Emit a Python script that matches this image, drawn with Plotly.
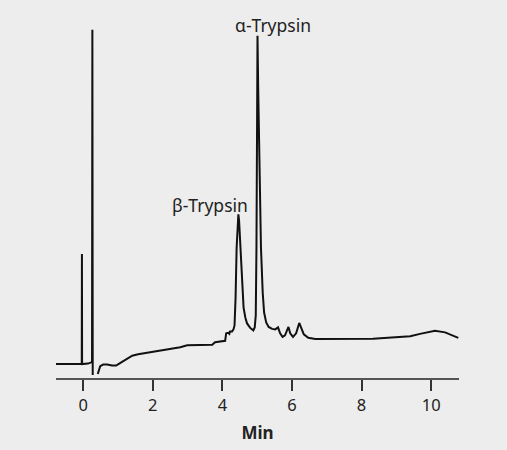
import plotly.graph_objects as go

# Retention time (min) and detector signal (arbitrary units)
time_min = [
    -0.78, -0.04, -0.035, -0.03, 0.14, 0.23, 0.255, 0.265, 0.275,
    None,
    0.42, 0.45, 0.49, 0.575, 0.69, 0.83, 0.95, 1.06, 1.24, 1.41, 1.58, 1.93,
    2.36, 2.79, 2.99, 3.36, 3.71, 3.79, 3.99, 4.08, 4.11, 4.17, 4.20, 4.22,
    4.28, 4.32, 4.35, 4.38, 4.41, 4.44, 4.46, 4.48, 4.53, 4.57, 4.61, 4.66,
    4.71, 4.80, 4.89, 4.93, 4.96, 4.98, 4.99, 5.01, 5.03, 5.07, 5.11, 5.16,
    5.20, 5.26, 5.33, 5.43, 5.52, 5.60, 5.66, 5.73, 5.80, 5.90, 5.95, 6.03,
    6.12, 6.21, 6.26, 6.34, 6.47, 6.67, 8.33, 8.82, 9.40, 9.68, 10.11, 10.40,
    10.78,
]
signal = [
    14, 14, 125, 14, 14.5, 16, 16, 351, 3,
    None,
    4, 9, 12, 13.5, 13.5, 12.5, 12.5, 15, 19, 22.5, 24, 26,
    28.5, 31, 33, 33.5, 33.5, 36, 37, 37.5, 45, 45.5, 44.5, 47,
    47, 49, 53, 81, 131, 161, 165, 159, 119, 91, 71, 61,
    55, 50.5, 48, 51, 63, 131, 261, 345, 291, 201, 131, 86,
    66, 56, 51.5, 49.5, 49, 51, 45, 41.5, 43, 51.5, 45, 41.5,
    45, 55.5, 51, 44, 40.5, 39.3, 39.5, 40.5, 42, 44.5, 47.7, 46,
    40.5,
]

peak_labels = ["α-Trypsin", "β-Trypsin"]
peak_label_x = [5.45, 3.65]
peak_label_y = [356, 174]

tick_vals = [0, 2, 4, 6, 8, 10]
tick_text = ["0", "2", "4", "6", "8", "10"]
x_title = "Min"

BG = "#ededed"
FONT = "Noto Sans"

fig = go.Figure()
fig.add_trace(go.Scatter(
    x=time_min, y=signal, mode="lines",
    line=dict(color="#111111", width=2),
    connectgaps=False, hoverinfo="skip", showlegend=False,
))

for txt, xv, yv in zip(peak_labels, peak_label_x, peak_label_y):
    fig.add_annotation(x=xv, y=yv, text=txt, showarrow=False,
                       xanchor="center", yanchor="middle",
                       font=dict(family=FONT, size=17.5, color="#222222"))

fig.update_layout(
    width=507, height=450,
    margin=dict(l=56, r=48, t=10, b=69),
    paper_bgcolor=BG, plot_bgcolor=BG,
    xaxis=dict(
        range=[-0.78, 10.8], tickvals=tick_vals, ticktext=tick_text,
        showline=True, linecolor="#555555", linewidth=1.5,
        ticks="outside", ticklen=11, tickwidth=2, tickcolor="#333333",
        showgrid=False, zeroline=False,
        tickfont=dict(family=FONT, size=16.5, color="#222222"),
        title=dict(text="<b>" + x_title + "</b>", standoff=13,
                   font=dict(family=FONT, size=17, color="#222222")),
    ),
    yaxis=dict(range=[0, 371], visible=False, showgrid=False, zeroline=False),
)

fig.write_html(
    "out.html",
    config={"displayModeBar": False},
    post_script="document.body.style.margin='0';document.body.style.background='#ededed';",
)
